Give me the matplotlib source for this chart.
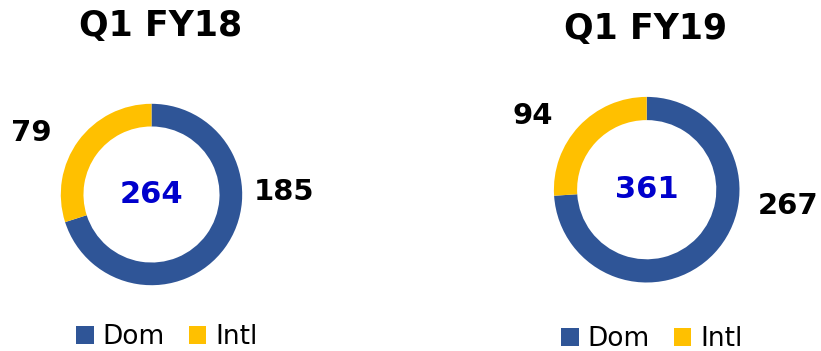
import matplotlib.pyplot as plt

labels = ['Dom', 'Intl']
fy18 = [185, 79]
fy19 = [267, 94]
titles = ['Q1 FY18', 'Q1 FY19']
colors = ['#2F5597', '#FFC000']

W, H = 821, 351
fig = plt.figure(figsize=(W / 100, H / 100), dpi=100)

def px(x, y):
  # pixel (from top-left) to figure fraction
  return x / W, 1 - y / H

def donut(vals, cx, cy, r, title, tpos, lpos, legpos):
  ax = fig.add_axes([(cx - r) / W, 1 - (cy + r) / H, 2 * r / W, 2 * r / H])
  wedges, _ = ax.pie(vals, colors=colors, startangle=90, counterclock=False,
                     radius=1, wedgeprops=dict(width=0.25, edgecolor='none'))
  ax.set_xlim(-1, 1)
  ax.set_ylim(-1, 1)
  ax.set_aspect('equal')
  ax.axis('off')
  ax.text(0, 0, str(sum(vals)), ha='center', va='center', fontsize=22,
          fontweight='bold', color='#0000CC')
  fig.text(*px(*tpos), title, ha='center', va='center', fontsize=25, fontweight='bold')
  for v, p in zip(vals, lpos):
    fig.text(*px(*p), str(v), ha='center', va='center', fontsize=21, fontweight='bold')
  fig.legend(wedges, labels, loc='center', bbox_to_anchor=px(*legpos), ncol=2,
             frameon=False, fontsize=19, handlelength=0.65, handleheight=0.65,
             handletextpad=0.35, columnspacing=0.9, borderpad=0)

donut(fy18, 151.5, 194.5, 90.7, titles[0], (161, 26), [(284, 192), (31, 133)], (167, 337))
donut(fy19, 646.7, 189.7, 92.8, titles[1], (646, 29), [(788, 206), (533, 116)], (652, 339))

plt.savefig('out.png', dpi=100)
